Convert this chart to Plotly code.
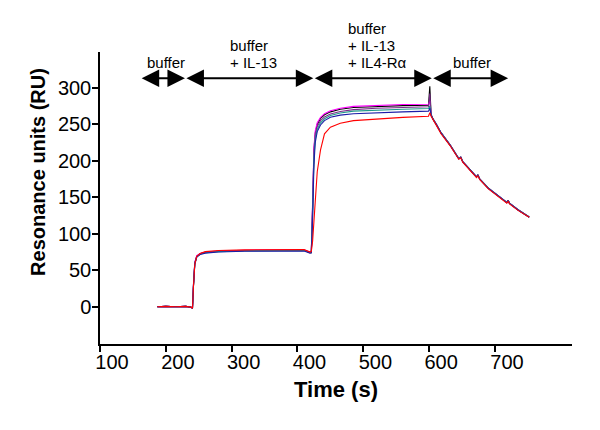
import plotly.graph_objects as go

# ---- data ----
time_s = [187, 200, 215, 230, 238, 240.5, 242, 244, 247, 252, 260, 280, 320, 370, 410, 419,
          421, 423, 425, 427, 430, 435, 441, 450, 465, 485, 520, 560, 599,
          601, 603, 606, 611, 618, 632, 645, 648, 651, 660, 672, 674, 677, 690, 705, 718, 720, 722, 735, 752]

ru_black = [0, 0.5, 0, 0.5, -0.5, -2, 30, 60, 69, 72.5, 74.5, 76, 77, 77.5, 77.5, 74,
            74, 140, 215, 238, 250, 258, 263, 267, 270.5, 273, 274.5, 275.5, 276,
            302, 263, 257, 250, 238.5, 221.5, 203, 205, 199, 190, 178, 180.5, 175, 162.5, 152, 143, 146, 142, 133, 123]
ru_magenta = [0, 0.5, 0, 0.5, -0.5, -2, 32, 61, 70, 73, 75, 76.5, 77.5, 78, 78, 75,
              75, 145, 218, 241, 252, 259.5, 264.5, 268.5, 272, 274.5, 276, 277, 277.5,
              282, 263, 257, 250, 238.5, 221.5, 203, 205, 199, 190, 178, 180.5, 175, 162.5, 152, 143, 146, 142, 133, 123]
ru_purple = [0, 0.5, 0, 0.5, -0.5, -2, 30, 60, 69, 72.5, 74.5, 76, 77, 77.5, 77.5, 74.5,
             75, 135, 210, 234, 247, 255, 260, 264, 267.5, 270, 272, 273, 274,
             292, 263, 257, 250, 238.5, 221.5, 203, 205, 199, 190, 178, 180.5, 175, 162.5, 152, 143, 146, 142, 133, 123]
ru_teal = [0, 0.5, 0, 0.5, -0.5, -2, 29, 59, 68.5, 72, 74, 75.5, 76.5, 77, 77, 74,
           75, 130, 205, 230, 243, 252, 257.5, 262, 265.5, 268, 269.5, 270.5, 271.5,
           275, 263, 257, 250, 238.5, 221.5, 203, 205, 199, 190, 178, 180.5, 175, 162.5, 152, 143, 146, 142, 133, 123]
ru_blue = [0, 0.5, 0, 0.5, -0.5, -2, 28, 58, 68, 71.5, 73.5, 75, 76, 76.5, 76.5, 73.5,
           74, 120, 195, 225, 240, 249, 255, 259.5, 262.5, 264.5, 266, 267, 268,
           272, 262.5, 256.5, 249.5, 238, 221, 202.5, 204.5, 198.5, 189.5, 177.5, 180, 174.5, 162, 151.5, 142.5, 145.5, 141.5, 132.5, 122.5]
ru_red = [0, 0.5, 0, 0.5, -0.5, -2, 28, 58, 69, 73, 75.5, 77, 78, 78.5, 78.5, 75,
          76, 90, 120, 155, 185, 215, 237, 246, 251.5, 255, 257.5, 259.5, 261,
          266, 261, 255.5, 248.5, 237, 220.5, 202, 204, 198, 189, 177, 179.5, 174, 161.5, 151, 142, 145, 141, 132, 122.5]

series = [("black", ru_black, "#000000"), ("magenta", ru_magenta, "#ff00ff"),
          ("purple", ru_purple, "#7a2a8a"), ("teal", ru_teal, "#1f9a8a"),
          ("blue", ru_blue, "#1c1ca8"), ("red", ru_red, "#ff0000")]

# injection phases: arrow boundaries in seconds, and label lines (top to bottom)
phase_bounds = [161, 229, 424, 604, 720]
phase_labels = [["buffer"], ["buffer", "+ IL-13"], ["buffer", "+ IL-13", "+ IL4-R\u03b1"], ["buffer"]]
label_x = [168, 295, 474, 633]
arrow_y = 313
label_y = 320

x_ticks = [100, 200, 300, 400, 500, 600, 700]
y_ticks = [0, 50, 100, 150, 200, 250, 300]

fig = go.Figure()
for name, vals, col in series:
    fig.add_trace(go.Scatter(x=time_s, y=vals, mode="lines", name=name,
                             line=dict(color=col, width=1.1)))

anns = []
for i in range(len(phase_bounds) - 1):
    a, b = phase_bounds[i], phase_bounds[i + 1]
    anns.append(dict(x=b, y=arrow_y, ax=a, ay=arrow_y, xref="x", yref="y", axref="x", ayref="y",
                     text="", showarrow=True, arrowhead=2, startarrowhead=2, arrowside="end+start",
                     arrowwidth=2, arrowsize=1.75, startarrowsize=1.75, arrowcolor="black"))
    lines = phase_labels[i]
    for k, txt in enumerate(reversed(lines)):
        anns.append(dict(x=label_x[i], y=label_y, yshift=17 * k, xref="x", yref="y", text=txt,
                         showarrow=False, xanchor="left", yanchor="bottom", align="left",
                         font=dict(size=15, color="black")))

anns.append(dict(x=-0.131, y=0.59, xref="paper", yref="paper", text="<b>Resonance units (RU)</b>",
                 showarrow=False, textangle=-90, font=dict(size=20, color="black"),
                 xanchor="center", yanchor="middle"))
fig.update_layout(annotations=anns)

# page body has an 8px margin, so the margins are offset to land the plot area where it belongs
fig.update_layout(
    width=600, height=430,
    margin=dict(l=92, r=36, t=44, b=94),
    plot_bgcolor="white", paper_bgcolor="white",
    showlegend=False,
    font=dict(family="Liberation Sans, Arial, sans-serif", color="black"),
)
fig.update_xaxes(range=[100, 817], showline=True, linecolor="black", linewidth=1.5,
                 ticks="outside", ticklen=6, tickwidth=1.5, tickcolor="black",
                 tickvals=x_ticks, showgrid=False, zeroline=False, automargin=False,
                 tickfont=dict(size=20), ticklabelshift=12, ticklabelstandoff=-7,
                 title=dict(text="<b>Time (s)</b>", font=dict(size=22), standoff=10))
fig.update_yaxes(range=[-51, 349], showline=True, linecolor="black", linewidth=1.5,
                 ticks="outside", ticklen=6, tickwidth=1.5, tickcolor="black",
                 tickvals=y_ticks, showgrid=False, zeroline=False, automargin=False,
                 tickfont=dict(size=20), ticklabelstandoff=-3)

fig.write_html("out.html")
